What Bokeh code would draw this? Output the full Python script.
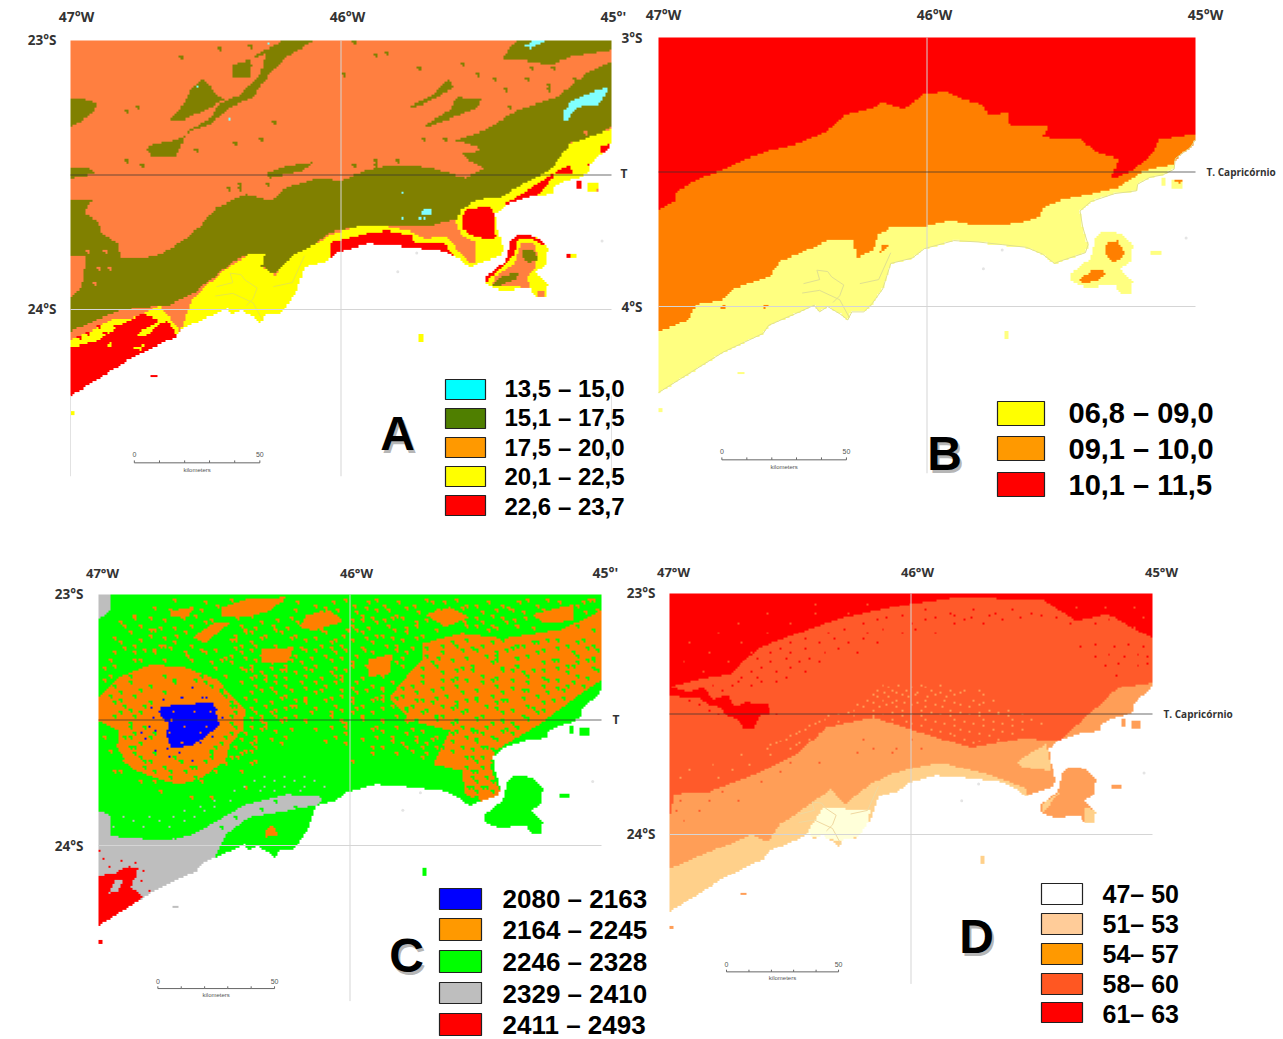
import numpy as np
from bokeh.embed import file_html
from bokeh.resources import INLINE
from bokeh.plotting import figure
from bokeh.models import Range1d
from bokeh.core.properties import value

# Map grid: x = hundredths of a degree east of 47W, y = hundredths of a degree south of 23S
COAST = [(0,132),(12,124.5),(24,117),(39,110),(41,107),(52.5,102),(58,99.5),(60,102),(63,100),(68,103),(70.5,105),
         (72,102),(76.5,102),(79.5,99),(83.5,93.5),(86.5,84),(94.5,82),(99,78.5),(110,75.5),(119,76),(128,77),(137,78),
         (143,80.5),(147.5,84),(150,83),(159,80),(160,77),(158,70.5),(157,64.5),(161,61),(170,58),(178,57),(178.5,54.5),
         (183,52),(188,51),(192,49),(192.5,45),(198,41),(200,38),(200,0),(0,0)]
ILHABELA = [(165,72),(172,72.5),(176.5,77),(176,83),(172,86),(176.5,90.5),(176,95.5),(172,95.5),(170,91.7),
            (159.6,93),(153.5,90.4),(154,87.4),(161,81.8),(163,74)]
ISLETS = [[(183,79),(187,79),(187,81),(183,81)],[(128.5,109),(130.5,109),(130,112),(129,112)],
          [(30,124),(32,124),(32,125),(30,125)],[(0,137.5),(2,137.5),(2,139),(0,139)],
          [(191,53),(195,53),(195,56),(191,56)],[(187,52),(189,52),(189,55),(187,55)]]
ESTUARY = [[(54,91.5),(60,90),(59,86.5),(63,87),(64.5,89),(69,92),(67.5,96),(65,98.5)],
           [(53.5,95),(60,94),(67.5,97.5),(71,104)],[(75,91.5),(82,90),(86.5,80)]]
SEA_MARKS_X = [196.5,121,128]
SEA_MARKS_Y = [74.5,86,79]

# Panel A: 13,5 - 23,7
A_OLIVE = [
 [(0,59),(8,59),(5,64),(10,67),(12,72),(17,75),(19,81),(27,81),(34,79),(42,74),(48,69),(54,62),(65,57),(74,59.5),(80,54.5),
  (92,51),(100,52),(110,48),(119,46),(132,47),(146,51),(154,47),(147,43),(152,40),(142,37),(153,33.5),(165,26),(180,21),
  (191,12),(200,7.5),(200,32),(193,36),(185,38),(181,46),(176,50),(169,56),(160,59.5),(150,61),(143,66),(132,69),(119,69),
  (108,69),(96,71),(90,76),(80,82),(75,87),(70,83),(67.5,79),(61.5,81),(54,87),(45,94),(37,98),(28,99),(19,100),(9,104),(0,108)],
 [(0,22),(6,22),(10,24),(6.5,28.5),(0,32)],
 [(28,40),(31,38.5),(39,37),(45,33.5),(52,31),(58.5,25),(67.5,21),(73.5,12.5),(80,6),(90,0),(78,0),(72,5),(70.5,12),(63,20),
  (55,23.5),(52,28.5),(43,34),(39,43),(30,43)],
 [(36,30),(42,23.5),(45,17.5),(49,14),(54,20),(57,22),(49.5,26),(40.5,30)],
 [(60,9),(70,6),(77,2.5),(72,3),(66,7.5),(67,9),(66,14),(60,14)],
 [(159.5,7.5),(162.5,2.5),(165.5,0),(200,0),(200,3.5),(185,6),(177.5,9),(168.5,7.5)],
 [(124,25.5),(134,20),(140,14),(141.5,17.5),(131,23.5)],
 [(131,31.5),(140,26),(143,21),(152,22),(150.5,25),(141.5,28.5),(132.5,32)],
 [(72,49.5),(80,46.5),(90,45),(85.5,48.5),(73.5,51)],
 [(0,47),(6.5,47),(9.5,49.5),(0,51)],
 [(144.5,42),(152,42),(157,47),(152,47),(147.5,44.5)],
]
A_CORAL_HOLE = [[(0,80),(6,80),(4,92),(0,96)]]
A_CYAN = [[(182,27),(185,22.5),(193,19),(199,17.5),(196,23.5),(188,24.5),(183,30)],[(168,2),(171.5,0),(176,0),(170,3)],
          [(129.5,63),(134,62),(134,64.5),(129.5,64.5)]]
A_YELLOW = [
 [(40.5,108),(45,96),(51,90.5),(58.5,84),(66,79.5),(72,79),(70.5,84),(75.5,87),(82.5,79.5),(90,76),(93,74.5),(95,82),(86,96.5),(73,109),(42,110)],
 [(91.5,77.5),(94.5,72.5),(108,68.5),(117,69),(126.5,71),(131,73.5),(138.5,72.5),(143,77.5),(147.5,82.5),(156.5,80),(158.5,75.5),(162.5,74.5),(164,79),(149,88),(102.5,84),(91.5,84)],
 [(142.5,67),(144.5,62.5),(151,59),(159.5,58),(168.5,52.5),(176,49),(179,46),(184.5,38.5),(192.5,35.5),(200,33),(203,49.5),(185,62),(162.5,64.5),(160,74.5),(150.5,75),(144.5,72.5)],
 [(0,111),(9,107),(16,103),(22,103.5),(33,98.5),(37.5,104),(40.5,108),(39,112),(0,136)],
 [(150,68),(180,68),(180,98),(150,98)],
 [(180,78),(190,78),(190,82),(180,82)],[(127,107),(132,107),(132,113),(127,113)],[(0,137),(3,137),(3,140),(0,140)],
]
A_RED = [
 [(96,75),(102,73.5),(110,71.5),(117,70.5),(126.5,72.5),(127,75.5),(132.5,75.5),(138.5,75),(140,78),(142,80.5),(146,83.5),(149,84),(149,88),(96,84)],
 [(144.5,65.5),(146.5,62.5),(155,61.5),(157,64.5),(157,72),(159,73),(153.5,73.5),(147.5,72),(144.5,69.5)],
 [(161,60.5),(168.5,56),(176,51),(179,49.5),(174.5,56),(168.5,59.5),(162.5,62)],
 [(179,49),(184.5,46),(186,49.5),(179,49.5)],[(196,39.5),(199.5,38.5),(199.5,41),(196.5,42)],[(191,46),(195,45),(192.5,47)],
 [(0,114),(10,111.5),(18,106),(27,101.5),(33,104),(26,108),(36,104),(39,109),(39,112),(0,136)],
 [(165,72),(171.5,72.5),(175.5,76),(174,76),(171,73.5),(165.5,73.5),(164,79.5),(161,83),(155,88),(154,90),(153,88.5),(161,80.5),(163,73.5)],
 [(29,123),(33,123),(33,126),(29,126)],[(183,79),(185,79),(185,81),(183,81)],[(187,52),(189,52),(189,55),(187,55)],
]
A_YELLOW_BITS = [[(12,113),(15.5,112),(15,113.5)],[(23,114),(27,113),(26,115)],[(24,109),(31,106),(33.5,103),(30.5,108),(26,110)]]
A_ISLAND_CORAL = [[(166.5,75),(171,75),(173,79.5),(171.5,85),(168.5,88),(170,92),(161,91),(156,90.5),(157,87.5),(164,83)],
                  [(172.5,92.5),(175.5,93),(175,95.5),(173,95)]]
A_ISLAND_OLIVE = [[(167,77.5),(171.5,78),(173,81),(169.5,82.5),(167,80.5)],[(156,91),(159,87.5),(165.5,86),(165,88.5),(160.5,90),(157.5,91.5)]]
A_OLIVE_DOTS = [(20,26),(24,24),(46,40),(60,38),(70,36),(75,30),(100,12),(112,5),(116,4),(128,10),(144,8),(150,12),(156,14),(160,18),(168,14),(176,16),(40,6),(66,2),(55,3),(20,44),(26,46),(104,0.5)]
A_CYAN_DOTS = [(47,17),(59,29),(73,1),(123,56),(123,66),(129,66),(131,66)]
A_OLIVE_ROWS = {55:[58,62],53:[62,72],46:[104,112],44:[112,120],36:[130,138],24:[162,172],18:[176,186],14:[186,196],10:[170,178]}
A_CORAL_ROWS = {78:[12,6],84:[10,14],90:[8],34:[190]}
A_RED_IN_YELLOW = {106:[10,16,22],108:[6,12,30],110:[3,20,34],104:[24,30]}

# Panel B: 06,8 - 11,5
B_ORANGE = [[(0,0),(200,0),(205,40),(193,47),(182.5,49),(179,50.5),(171.5,55.5),(164,57.5),(149.5,60.5),(143.5,63),(142,66.5),(134,69),(120,70),
  (108.5,68),(97.5,70.5),(86.5,70.5),(82,73),(80,79),(74,82),(72.5,75),(63,75.5),(55,79),(45.5,83),(41,89),(28.5,93),(23.5,97.5),(14,99),(11,105),(0,109)],
  [(167,76),(171,75.5),(174,80),(170,83.5),(166,80)],[(157,90),(161.5,86),(167,87),(164,90),(157.5,91.5)],
  [(192,53),(196,53),(194,54.5)],[(22,100),(25,99.5),(24.5,101)],[(39,99.5),(40.5,99.5),(40,101)],[(83.5,77),(86,77),(82.5,80)]]
B_RED = [[(0,64),(6,60.5),(7,57),(16,52),(23.5,49.5),(31.5,45.5),(41,42),(52,39.5),(63,34.5),(69,29),(79,26.5),(83.5,24),(91.5,26.5),(99,21),
  (107,20),(112,22.5),(121,25),(123,29),(130,28),(131,32.5),(145,33),(143,37),(157.5,38),(164,43),(171.5,45),(168.5,52.5),(176.5,49.5),(184,43),
  (186.5,38),(198.5,36),(200,36),(200,0),(0,0)]]

# Panel C: 2080 - 2493
C_ORANGE = [
 [(0,41),(8,33),(21,28),(34,29),(47,34),(53.5,41),(58.5,46),(57,54),(52,59.5),(50.5,66),(40.5,73),(32.5,75.5),(23,73),(13,69),(7.5,61),(8,54),(0,50)],
 [(128.5,19.5),(144.5,15.5),(161,17.5),(184,14),(200,6.5),(200,34),(188.5,42),(179,49),(171,54),(158,62),(156,69),(161,81),(154.5,83),(146,79.5),(144.5,70),(133,67.5),(140,54),(123.5,50),(115.5,41),(123.5,31.5),(128.5,26)],
 [(49,5),(58.5,2),(75,1),(68,6.5),(58.5,9),(49,9)],[(83,8),(92.5,6.5),(97.5,10.5),(86,14.5),(80,13)],[(29,6.5),(37.5,5),(36,8.5),(29,8.5)],
 [(37.5,17),(45.5,11.5),(52,11.5),(42,19.5)],[(65,22),(78,21),(75,27.5),(65,27.5)],[(130,8),(140,5),(148,9),(138,13)],[(172,8),(188.5,4),(188.5,10.5),(177,11.5)],
 [(107,26),(117,23.5),(115.5,31.5),(107,33)],[(66.5,94),(69,91.5),(71.5,95.5),(66.5,96.5)],
]
C_GRAY = [[(0,96),(10,96.5),(26,98),(37.5,95.5),(47,90),(58.5,83.5),(75,79.5),(89.5,80.5),(88,83.5),(75,86),(60,88.5),(50.5,95.5),(45.5,106),(42,112),(0,136)],
          [(0,86),(5,88),(5,96),(0,96)],[(0,0),(4.5,0),(4.5,6.5),(0,10)],[(29,123),(33,123),(33,126),(29,126)]]
C_RED = [[(0,112),(6.5,111),(10,109),(16,109),(13,116.5),(18,120.5),(10,127),(0,136)],[(0,137),(3,137),(3,140),(0,140)]]
C_GRAY_IN_RED = [[(6.5,114),(10,113),(8,118),(4,119)]]
C_BLUE = [[(25,45),(31,44),(40.5,43.5),(45.5,43.5),(48,51.5),(42,57),(36.5,60),(29,61),(27,55.5),(28.5,51),(25,49)]]
C_BLUE_DOTS = [(22,49),(23,54),(18.5,57),(37.5,37.5),(26,42),(23,62),(27.5,61.5),(37.5,66),(43,41.5),(47,46),(21,45),(17,55),(46,53),(20,52),(24,47),(33,41),(41,41),(49,49),(45,56),(40,59),(32,63),(28,64)]
C_ORANGE_IN_BLUE = [(30,47),(34,52),(40,55),(28,55),(44,47),(33,59),(38,47),(29,50),(43,52)]
C_RED_DOTS = [(2,105),(4,108),(9,106),(12,108),(15,107),(15,112),(17,114),(20,118),(14,119),(21,121),(18,110),(0,102)]
C_ORANGE_DOTS = [(10,12),(14,9),(22,14),(26,20),(31,16),(35,24),(40,22),(44,27),(50,25),(54,18),(58,15),(62,20),(60,30),(66,32),(70,35),(74,30),(82,22),(88,20),(94,18),(99,14),(104,10),(110,6),(116,9),(122,5),(126,12),(112,16),(118,20),(105,22),(100,28),(94,32),(88,38),(82,42),(76,44),(70,48),(66,52),(62,58),(60,62),(92,47),(98,52),(104,48),(110,52),(116,56),(122,60),(128,64),(108,60),(100,66),(134,60),(120,44),(112,42),(106,38),(126,36),(120,28),(128,16),(132,3),(142,2),(150,4),(156,12),(164,6),(170,2),(178,2),(192,3),(196,2),(152,11),(160,9),(146,12),(56,70),(58,76),(44,80),(36,80),(24,78),(16,74),(6,70),(4,62),(2,56),(55,64),(62,66),(22,22),(14,26),(6,28),(2,34)]
C_GREEN_DOTS = [(135,25),(142,20),(150,22),(158,24),(166,20),(174,19),(182,18),(190,12),(196,14),(196,26),(188,28),(180,26),(172,30),(164,30),(156,34),(148,30),(140,34),(132,38),(126,42),(122,46),(134,48),(142,44),(150,42),(160,42),(170,38),(178,34),(186,36),(148,54),(152,60),(146,64),(140,62),(136,60),(150,70),(147,76),(152,76),(156,74),(30,34),(38,34),(16,38),(8,42),(12,46),(52,44),(48,38),(44,62),(38,68),(28,70),(20,66),(14,60),(12,56),(64,85),(70,82),(78,84),(54,88),(48,92),(30,96),(20,94),(8,93)]
C_ORANGE_ROWS = {3:[42,61,79,93,107,119,137,155,167,183],4:[47,66,86,101,113,125,146,160,174,190],6:[28,40,78,95,115,135,158,176,198],
 7:[33,88,102,127,152,168,193],9:[20,33,55,76,108,120,150,169],10:[26,44,71,100,113,130,165,195],12:[16,36,56,69,100,115,150,166,192],
 13:[24,30,62,75,107,122,158,172,197],15:[12,34,60,72,90,104,122],16:[20,54,66,78,97,110],18:[16,52,82,100,120],19:[8,30,60,92,108],
 21:[10,28,54,80,92,104,124],22:[18,46,60,86,98,118],24:[52,64,78,90,102],25:[58,72,84,96,120],27:[52,68,80,100,118],28:[60,74,86,106],
 30:[58,72,84,98],31:[64,78,92,110],33:[60,74,88,104],34:[66,96,118],36:[62,74,90,108],37:[68,82,100,112],39:[60,70,86,102,118],40:[74,96,112],
 42:[62,78,90,108],43:[68,82,100,118],45:[60,74,86,102,112],46:[70,96],48:[64,78,92,118],49:[60,74,104,128],51:[66,98,132],52:[60,92,118],
 54:[70,112,128],55:[58,98,122],57:[56,68,104,132],58:[90,116,126],60:[54,62,112,128],62:[58,124],64:[52,48,16],66:[44,10],68:[30,20,40]}
C_ORANGE_ROWS2 = {2:[30,52,72,98,110,130,142,178,195],5:[22,36,90,106,122,144,163,185],8:[14,38,60,84,104,118,140,156,174],11:[8,42,64,79,94,110,126,145,162],
 14:[20,44,58,70,88,102,117,134,155],17:[6,26,40,64,76,86,106,116,126],20:[14,24,36,56,70,88,96,114],23:[6,14,22,34,42,56,74,94,108,122],
 26:[4,16,26,36,48,62,76,92,112],29:[2,46,56,68,82,94,108],32:[4,50,62,70,82,96,112],35:[56,70,80,86,94,102,116],38:[64,76,88,96,106,112],
 41:[58,72,82,92,100,110],44:[66,78,94,104,116],47:[62,68,84,100,108],50:[64,72,82,96,112,122],53:[56,64,76,86,108,124],56:[62,74,94,110,126,134],
 59:[60,72,98,120,130],63:[56,108,118,130],67:[46,60,50,12],70:[36,46,18,8],74:[22,30,40]}
C_GREEN_ROWS = {18:[131,146,160,178,192],20:[136,152,168,186,196],22:[126,144,162,176,198],24:[130,154,170,190],26:[124,140,158,182,194],
 28:[134,148,166,186],30:[120,142,160,176,198],32:[128,152,170,190,12,26,40],34:[118,136,146,164,182],36:[124,142,158,176,192,6,20,44,50],
 38:[116,132,150,168,184],40:[120,138,156,174,4,14,50],42:[128,146,162,180],44:[124,136,154,170,10,18,54],46:[130,146,164,176],
 48:[136,152,168,6,14,52],50:[126,142,160],52:[144,154,166,12,18,54],54:[142,150,160],56:[146,156,10,20,50],58:[140,150],60:[144,154,12,46],
 64:[148,152,16,30,44],68:[136,146,152,18,26,36],72:[148,154,28,38],74:[150,158],78:[150,156]}
C_GREEN_ROWS2 = {19:[140,156,172,190],21:[130,148,164,182,194],23:[136,158,174,188],25:[126,146,166,196],27:[132,156,176,190],29:[128,144,160,182,196],
 31:[122,136,168,186],33:[142,158,176,194],35:[128,152,170,188,12,30,42],37:[120,136,164,182],39:[126,144,160,178,8,26,48],41:[118,134,150,168,184],
 43:[132,142,158,176,6,20,52],45:[122,140,158,172],47:[128,144,160,174,8,16,54],49:[134,150,170],51:[140,156,164,12,52],53:[148,162],55:[140,152,164,14,22,52],
 57:[150,158],59:[16,48],61:[148,156],63:[14,22,44],66:[150,156,18,32,42],70:[138,148,22,34],76:[148,154],80:[158,150]}
C_GRAY_ROWS = {72:[66,74,82],74:[62,70,78,86],76:[58,66,74,82,90],78:[54,64,70,80],82:[46,52],84:[40,46],86:[34,42],88:[10,20,30,38],90:[14,24,34],92:[6,18,28]}

# Panel D: 47 - 63
D_LIGHT = [[(0,93),(2,83),(16.5,82),(35.5,75),(53,66.5),(65,55.5),(84.5,51.5),(102,57),(125,64),(146,60),(161.5,61),(172,51.5),(186,39),(200,37),(205,60),(205,140),(0,140)]]
D_RED = [[(0,38.5),(14.5,35),(25,33.5),(37,22.5),(60,14),(72,10),(98.5,4.5),(116,2),(135,2),(154.5,2.5),(168.5,11.5),(181,8.5),(200,18.5),(200,0),(0,0)],
         [(0,38.5),(8,41),(14,39),(18,44),(24,42),(27,47),(32,45),(41,46),(42,50),(37,51),(35,56),(31,56),(28,52),(24,51),(21,47),(16,46),(12,43),(5,43),(0,42)]]
D_PALE = [[(0,114),(14.5,108),(34,100),(41,103),(46,95.5),(58,87.5),(67,81),(72.5,87.5),(83,79),(91.5,75),(102,72),(112.5,70),(132,75),(147.5,80.5),(150,88),(88,95),(70,112),(40,115),(0,135)],
          [(144,69.5),(156,62.5),(158,73.5),(146,72)],[(154.5,87),(163,81.5),(161,83),(154.5,91)],[(172,88.5),(177,90),(177,96),(172,96)],[(127,107),(132,107),(132,113),(127,113)]]
D_WHITE = [[(57.5,98.5),(63.5,88.5),(83,90),(81,100),(70.5,102.5),(56.5,100)]]
D_LIGHT_ROWS = {38:[88,95,104,112],40:[86,92,98,108,116,122,128],42:[84,96,102,110,118,130],44:[82,88,94,106,114,126,134],46:[78,90,100,110,120,128],
 48:[76,84,96,104,116,132,140],50:[70,88,100,112,124,136,146],52:[64,80,92,106,118,130,142,150],54:[60,72,86,100,114,126,138,154],
 56:[56,66,80,94,108,120,134,146],58:[52,62,74,88,102,116,128,142],60:[48,58,70,94,108,122,136],62:[44,54,66,112,126],64:[40,50,60,118],
 67:[30,42],71:[18,33],76:[4,20]}
D_LIGHT_ROWS2 = {39:[91,100,106],41:[89,94,103,112,120],43:[86,91,99,107,115],45:[84,92,97,103,118,130],47:[80,87,94,106,113,124],49:[74,92,108,120,128,136],
 51:[66,76,84,96,104,116,128,140],53:[62,70,88,98,110,122,134,146],55:[58,76,90,104,118,130,142],57:[54,64,84,98,112,124,138],59:[50,68,80,92,106,118,132],
 61:[46,62,76,100,114,128],63:[42,52,70,116],73:[8,26]}
D_CORAL_ROWS = {60:[80,100],64:[84,94,104],66:[78,92],70:[40,50,62],74:[34,46],78:[26,38],82:[8,22],86:[4,16,28],90:[3,12],94:[6],
 4:[60,82],8:[40,60,74],12:[28,50,64],16:[20,40,54],20:[8,30,46],24:[16,34],28:[6,24],32:[14],6:[168,180,192],10:[184,196],14:[192]}
D_RED_ROWS = {36:[28,38,44],32:[34,44,56],28:[30,42,54,62],24:[42,50,64,78],20:[50,62,74,86],16:[66,82,96,110],12:[80,100,118,130,166,176,190],
 10:[90,110,125,145,160,175],8:[116,135,150],40:[4,12,22],44:[8,18],48:[24,16],22:[170,184,196],26:[176,188,198],30:[180,194],34:[185]}
D_RED_ROWS2 = {35:[30,36,48],31:[38,50],27:[36,48,58],23:[46,56,70],19:[56,68,80],15:[72,88,102],11:[86,106,122,138,170,182],9:[96,118,132,154,166],7:[106,126,142],
 21:[176,190],25:[182,194],29:[186,198],38:[18,26,34],42:[10,4],46:[12,20],50:[20,44]}

# Map furniture, in map-grid units
TROPIC_Y = 50
LAT24_Y = 100
MERID_BOTTOM_Y = 162
SCALE_X = [23.6, 32.9, 42.2, 51.4, 60.7, 70.0]
SCALE_Y = 157

# Legends
A_LABELS = ["13,5 – 15,0","15,1 – 17,5","17,5 – 20,0","20,1 – 22,5","22,6 – 23,7"]
A_COLORS = ["#00FFFF","#4F7F00","#FF9900","#FFFF00","#FF0000"]
B_LABELS = ["06,8 – 09,0","09,1 – 10,0","10,1 – 11,5"]
B_COLORS = ["#FFFF00","#FF9900","#FF0000"]
C_LABELS = ["2080 – 2163","2164 – 2245","2246 – 2328","2329 – 2410","2411 – 2493"]
C_COLORS = ["#0000FF","#FF9900","#00FF00","#BEBEBE","#FF0000"]
D_LABELS = ["47– 50","51– 53","54– 57","58– 60","61– 63"]
D_COLORS = ["#FFFFFF","#FFCC99","#FF9900","#FF5722","#FF0000"]

CELL = 0.8
NX, NY = 250, 175
gx, gy = np.meshgrid((np.arange(NX)+.5)*CELL, (np.arange(NY)+.5)*CELL)

def inside(poly):
    P = np.array(poly, float)
    x0, y0 = P[:,0], P[:,1]
    x1, y1 = np.roll(x0,-1), np.roll(y0,-1)
    r = np.zeros(gx.shape, bool)
    for a,b,c,d in zip(x0,y0,x1,y1):
        if b == d: continue
        crossing = ((b > gy) != (d > gy)) & (gx < (c-a)*(gy-b)/(d-b)+a)
        r ^= crossing
    return r

LAND = inside(COAST) | inside(ILHABELA)
for _i in ISLETS:
    LAND |= inside(_i)

def rgba(h):
    h = h.lstrip("#")
    r,g,b = int(h[:2],16),int(h[2:4],16),int(h[4:],16)
    return (255<<24)|(b<<16)|(g<<8)|r

def rows(d):
    return [(x,y) for y,xs in d.items() for x in xs]

FOOT = {1:[(0,0)], 2:[(0,0),(0,1),(1,1)]}

def raster(base, layers, dots=()):
    img = np.zeros((NY,NX),dtype=np.uint32)
    img[LAND] = rgba(base)
    for col, polys in layers:
        for poly in polys:
            img[inside(poly) & LAND] = rgba(col)
    for col, pts, n in dots:
        for x,y in pts:
            i,j = int(y/CELL), int(x/CELL)
            for di,dj in FOOT[n]:
                ii,jj = i+di,j+dj
                if 0<=ii<NY and 0<=jj<NX and LAND[ii,jj]:
                    img[ii,jj] = rgba(col)
    return img

CORAL="#FF7F40"; OLIVE="#808000"; CYAN="#80FFFF"; YEL="#FFFF00"; RED="#FF0000"
IMG_A = raster(CORAL,[(OLIVE,A_OLIVE),(CORAL,A_CORAL_HOLE),(CYAN,A_CYAN),(YEL,A_YELLOW),(RED,A_RED),(YEL,A_YELLOW_BITS),
                      (CORAL,A_ISLAND_CORAL),(OLIVE,A_ISLAND_OLIVE)],
               [(OLIVE,A_OLIVE_DOTS,2),(OLIVE,rows(A_OLIVE_ROWS),2),(CORAL,rows(A_CORAL_ROWS),2),(RED,rows(A_RED_IN_YELLOW),2),(CYAN,A_CYAN_DOTS,1)])
IMG_B = raster("#FFFF80",[("#FF7F00",B_ORANGE),(RED,B_RED)])
IMG_C = raster("#00FF00",[("#FF7F00",C_ORANGE),("#BEBEBE",C_GRAY),(RED,C_RED),("#BEBEBE",C_GRAY_IN_RED),("#0000FF",C_BLUE)],
               [("#FF7F00",C_ORANGE_DOTS,2),("#FF7F00",rows(C_ORANGE_ROWS),2),("#FF7F00",rows(C_ORANGE_ROWS2),2),
                ("#00FF00",C_GREEN_DOTS,2),("#00FF00",rows(C_GREEN_ROWS),2),("#00FF00",rows(C_GREEN_ROWS2),2),
                ("#BEBEBE",rows(C_GRAY_ROWS),1),("#0000FF",C_BLUE_DOTS,1),("#FF7F00",C_ORANGE_IN_BLUE,1),(RED,C_RED_DOTS,1)])
IMG_D = raster("#FF5A2A",[("#FF9E57",D_LIGHT),(RED,D_RED),("#FFD08A",D_PALE),("#FFFFD9",D_WHITE)],
               [("#FF9E57",rows(D_LIGHT_ROWS),1),("#FF9E57",rows(D_LIGHT_ROWS2),1),("#FF5A2A",rows(D_CORAL_ROWS),1),
                (RED,rows(D_RED_ROWS),1),(RED,rows(D_RED_ROWS2),1)])

W, H = 1283, 1039
X0, Y0 = 0, 0
p = figure(width=W, height=H, x_range=Range1d(X0, X0+W), y_range=Range1d(Y0+H, Y0), min_border=0,
           toolbar_location=None, output_backend="svg", outline_line_color=None)
p.axis.visible = False
p.grid.visible = False
p.background_fill_color = "white"

# each panel: screen position of 47W, 45W, 23S, 24S
CAL = {"A":(70,611,40,309),"B":(658,1195,37,306),"C":(98,601,594,845),"D":(669,1152,593,834)}
for k,(xa,xb,ya,yb) in CAL.items():
    sx=(xb-xa)/200; sy=(yb-ya)/100
    p.extra_x_ranges[k]=Range1d((X0-xa)/sx,(X0+W-xa)/sx)
    p.extra_y_ranges[k]=Range1d((Y0+H-ya)/sy,(Y0-ya)/sy)

for k,img in zip("ABCD",[IMG_A,IMG_B,IMG_C,IMG_D]):
    kw=dict(x_range_name=k,y_range_name=k)
    p.image_rgba(image=[img],x=0,y=0,dw=NX*CELL,dh=NY*CELL,**kw)
    p.scatter(SEA_MARKS_X,SEA_MARKS_Y,size=3,fill_color="#E4E4E4",line_color=None,**kw)
    for e in ESTUARY:
        if k in "ABD":
            col={"A":"#E8E840","B":"#E0E090","D":"#F0D8A0"}[k]
            p.line([q[0] for q in e],[q[1] for q in e],line_color=col,line_width=1,**kw)
    if k=="B":
        p.line([q[0] for q in COAST[:-2]],[q[1] for q in COAST[:-2]],line_color="#E0E090",line_width=1,**kw)
    # graticule
    p.line([100,100],[0,MERID_BOTTOM_Y],line_color="#D5D5D5",line_width=1,**kw)
    p.line([0,200],[LAT24_Y,LAT24_Y],line_color="#D5D5D5",line_width=1,**kw)
    if k=="A":
        p.line([0,0],[132,MERID_BOTTOM_Y],line_color="#E2E2E2",line_width=1,**kw)
        p.line([200,200],[132,MERID_BOTTOM_Y],line_color="#E2E2E2",line_width=1,**kw)
    p.line([0,200],[TROPIC_Y,TROPIC_Y],line_color="#303030",line_alpha=.7,line_width=1.2,**kw)
    # scale bar
    p.line(SCALE_X,[SCALE_Y]*6,line_color="#666666",line_width=1,**kw)
    p.segment(SCALE_X,[SCALE_Y-.9]*6,SCALE_X,[SCALE_Y]*6,line_color="#666666",line_width=1,**kw)
    p.text([SCALE_X[0],SCALE_X[-1]],[SCALE_Y-3]*2,text=["0","50"],text_font_size="7px",text_color="#555555",
           text_align="center",text_baseline="middle",**kw)
    p.text([46.8],[SCALE_Y+2.6],text=["kilometers"],text_font_size="6px",text_color="#555555",
           text_align="center",text_baseline="middle",**kw)

def labels(xs,ys,txt,size,align="center",color="#333333",font="Open Sans",style="bold",alpha=1):
    p.text(xs,ys,text=txt,text_font=value(font),text_font_style=style,text_font_size=f"{size}px",text_color=color,
           text_align=align,text_baseline="middle",text_alpha=alpha)

# graticule labels
labels([76,347,663,934,1205],[16,16,14,14,14],["47°W","46°W","47°W","46°W","45°W"],14)
labels([600,592],[16,572],["45°'","45°'"],14,align="left")
labels([102,356,673,917,1161],[572,572,571,571,571],["47°W","46°W","47°W","46°W","45°W"],13)
labels([56,56,83,83,655,655],[39,308,593,845,592,833],["23°S","24°S","23°S","24°S","23°S","24°S"],13.5,align="right")
labels([642,642],[37,306],["3°S","4°S"],13.5,align="right")
labels([620,612],[173,719],["T","T"],12,align="left")
labels([1206,1163],[171,713],["T. Capricórnio","T. Capricórnio"],10,align="left")

def legend(cols,txts,x0,x1,tops,bots,tx,size,ys):
    p.quad(left=[x0]*len(cols),right=[x1]*len(cols),top=tops,bottom=bots,fill_color=cols,line_color="#222222",line_width=1.2)
    labels([tx]*len(cols),ys,txts,size,align="left",color="black",font="Liberation Sans")

legend(A_COLORS,A_LABELS,445,485,[379,408,437,466,495],[399,428,457,486,515],504,24,[388,417,447,476,506])
legend(B_COLORS,B_LABELS,997,1044,[401,436,472],[425,460,496],1068,29,[412,448,484])
legend(C_COLORS,C_LABELS,439,481,[888,918,950,982,1013],[909,940,972,1003,1035],502,26,[898,929,961,993,1024])
legend(D_COLORS,D_LABELS,1041,1082,[883,913,943,973,1002],[904,934,964,994,1022],1102,25,[893,923,953,983,1013])

# panel letters with a drop shadow
LET=["A","B","C","D"]; LX=[397,944,406,976]; LY=[433,453,955,936]
labels([x+2 for x in LX],[y+3 for y in LY],LET,48,color="#777777",font="Liberation Sans",alpha=.55)
labels(LX,LY,LET,48,color="black",font="Liberation Sans")

open("out.html","w").write(file_html(p,INLINE))
